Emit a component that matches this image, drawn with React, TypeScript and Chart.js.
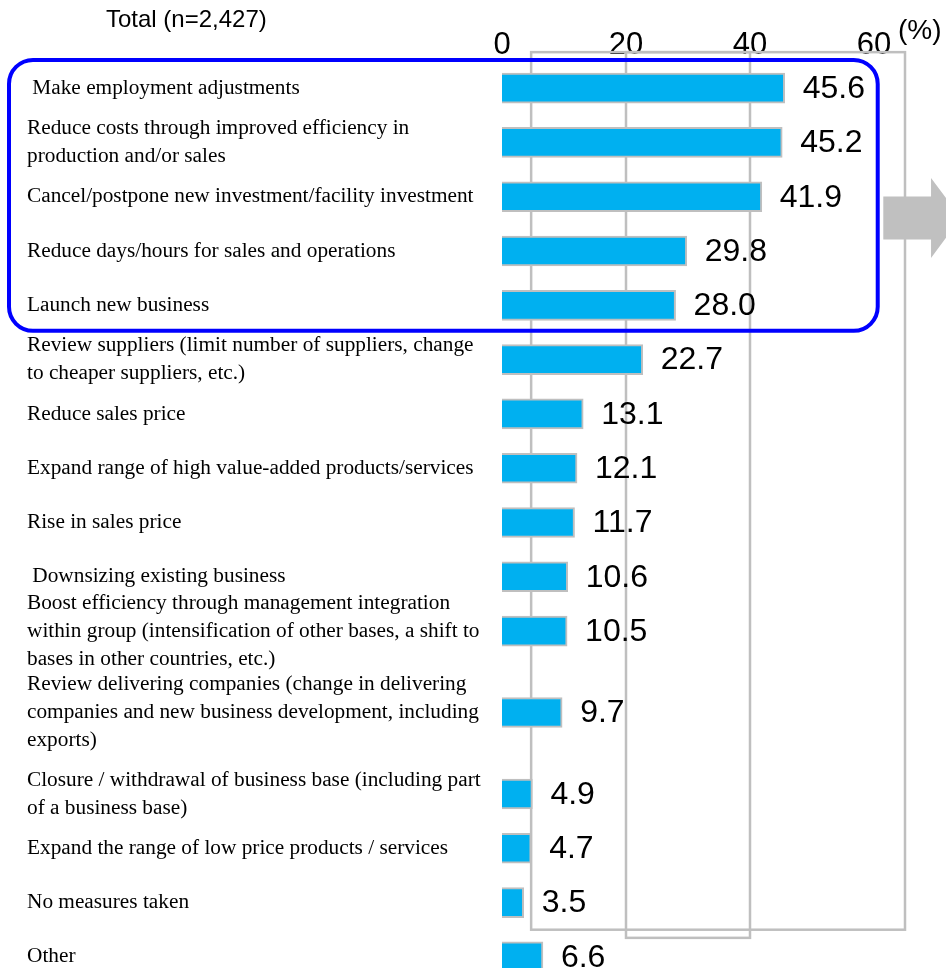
import { useEffect, useRef } from "react";
import { Chart, registerables } from "chart.js";

Chart.register(...registerables);

const categories: (string | string[])[] = [
  " Make employment adjustments",
  ["Reduce costs through improved efficiency in", "production and/or sales"],
  "Cancel/postpone new investment/facility investment",
  "Reduce days/hours for sales and operations",
  "Launch new business",
  ["Review suppliers (limit number of suppliers, change", "to cheaper suppliers, etc.)"],
  "Reduce sales price",
  "Expand range of high value-added products/services",
  "Rise in sales price",
  " Downsizing existing business",
  [
    "Boost efficiency through management integration",
    "within group (intensification of other bases, a shift to",
    "bases in other countries, etc.)",
  ],
  [
    "Review delivering companies (change in delivering",
    "companies and new business development, including",
    "exports)",
  ],
  ["Closure / withdrawal of business base (including part", "of a business base)"],
  "Expand the range of low price products / services",
  "No measures taken",
  "Other",
];

const values: number[] = [45.6, 45.2, 41.9, 29.8, 28.0, 22.7, 13.1, 12.1, 11.7, 10.6, 10.5, 9.7, 4.9, 4.7, 3.5, 6.6];

const xTicks: number[] = [0, 20, 40, 60];

const titleText = "Total (n=2,427)";
const unitText = "(%)";

const SANS = "'Liberation Sans', Arial, sans-serif";
const SERIF = "'Liberation Serif', 'Times New Roman', serif";

// Row slots: each category gets one slot, with an extra half slot between
// neighbouring rows whose labels together need more than four text lines.
const lineCount = (c: string | string[]) => (Array.isArray(c) ? c.length : 1);
const rowSlots: number[] = [];
categories.forEach((c, i) => {
  if (i === 0) {
    rowSlots.push(0);
  } else {
    const pair = lineCount(categories[i - 1]) + lineCount(c);
    rowSlots.push(rowSlots[i - 1] + (pair >= 5 ? 1.5 : 1));
  }
});
const lastSlot = rowSlots[rowSlots.length - 1];

const decorPlugin = {
  id: "decor",
  beforeDatasetsDraw(chart: any) {
    const { ctx } = chart;
    const xs = chart.scales.x;
    const ys = chart.scales.y;
    ctx.save();
    // grey frame (as in source, slightly offset from the value axis)
    ctx.strokeStyle = "#BFBFBF";
    ctx.lineWidth = 2.5;
    const top = ys.getPixelForValue(-0.663);
    const outerBottom = ys.getPixelForValue(15.5);
    const innerBottom = ys.getPixelForValue(15.65);
    const l = xs.getPixelForValue(4.7);
    const r = xs.getPixelForValue(65);
    const g20 = xs.getPixelForValue(20);
    const g40 = xs.getPixelForValue(40);
    ctx.strokeRect(l, top, r - l, outerBottom - top);
    ctx.strokeRect(g20, top, g40 - g20, innerBottom - top);
    // grey arrow
    const cy = ys.getPixelForValue(2.39);
    const bx0 = xs.getPixelForValue(61.5);
    const hx = xs.getPixelForValue(69.2);
    const tip = xs.getPixelForValue(74);
    ctx.fillStyle = "#C0C0C0";
    ctx.beginPath();
    ctx.moveTo(bx0, cy - 21.5);
    ctx.lineTo(hx, cy - 21.5);
    ctx.lineTo(hx, cy - 40);
    ctx.lineTo(tip, cy);
    ctx.lineTo(hx, cy + 40);
    ctx.lineTo(hx, cy + 21.5);
    ctx.lineTo(bx0, cy + 21.5);
    ctx.closePath();
    ctx.fill();
    ctx.restore();
  },
  afterDatasetsDraw(chart: any) {
    const { ctx } = chart;
    const xs = chart.scales.x;
    const ys = chart.scales.y;
    const meta = chart.getDatasetMeta(0);
    ctx.save();
    // value labels
    ctx.fillStyle = "#000";
    ctx.font = `32px ${SANS}`;
    ctx.textAlign = "left";
    ctx.textBaseline = "middle";
    meta.data.forEach((el: any, i: number) => {
      ctx.fillText(values[i].toFixed(1), el.x + 18, el.y + 1);
    });
    // blue rounded highlight box
    const bl = 9;
    const br = xs.getPixelForValue(60.6);
    const bt = ys.getPixelForValue(-0.52);
    const bb = ys.getPixelForValue(4.47);
    const rad = 24;
    ctx.strokeStyle = "#0000FF";
    ctx.lineWidth = 4;
    ctx.beginPath();
    ctx.moveTo(bl + rad, bt);
    ctx.lineTo(br - rad, bt);
    ctx.arcTo(br, bt, br, bt + rad, rad);
    ctx.lineTo(br, bb - rad);
    ctx.arcTo(br, bb, br - rad, bb, rad);
    ctx.lineTo(bl + rad, bb);
    ctx.arcTo(bl, bb, bl, bb - rad, rad);
    ctx.lineTo(bl, bt + rad);
    ctx.arcTo(bl, bt, bl + rad, bt, rad);
    ctx.closePath();
    ctx.stroke();
    // title and unit
    ctx.fillStyle = "#000";
    ctx.textBaseline = "alphabetic";
    ctx.font = `24px ${SANS}`;
    ctx.fillText(titleText, 106, 27);
    ctx.font = `28px ${SANS}`;
    ctx.fillText(unitText, 898, 39);
    ctx.restore();
  },
};

export default function App() {
  const canvasRef = useRef<HTMLCanvasElement | null>(null);

  useEffect(() => {
    const canvas = canvasRef.current;
    if (!canvas) return;
    const chart = new Chart(canvas, {
      type: "bar",
      data: {
        datasets: [
          {
            data: values.map((v, i) => ({ x: v, y: rowSlots[i] })),
            backgroundColor: "#00B0F0",
            borderColor: "#BFBFBF",
            borderWidth: { top: 2, right: 2, bottom: 2, left: 0 },
            borderSkipped: false,
            barThickness: 30,
          },
        ],
      },
      options: {
        indexAxis: "y",
        responsive: false,
        animation: false,
        devicePixelRatio: 1,
        layout: { padding: { left: 27, right: 72, top: 0, bottom: 0 } },
        plugins: {
          legend: { display: false },
          tooltip: { enabled: false },
          title: { display: false },
        },
        scales: {
          x: {
            type: "linear",
            position: "top",
            min: 0,
            max: 60,
            offset: false,
            afterBuildTicks: (s: any) => {
              s.ticks = xTicks.map((v) => ({ value: v }));
            },
            afterFit: (s: any) => {
              s.height = 61;
              s.paddingLeft = 0;
              s.paddingRight = 0;
            },
            grid: { display: false, drawTicks: false, offset: false },
            border: { display: false },
            ticks: {
              color: "#000",
              font: { family: SANS, size: 31, lineHeight: 1 },
              padding: 0,
              maxRotation: 0,
              autoSkip: false,
            },
          },
          y: {
            type: "linear",
            reverse: true,
            offset: false,
            min: -0.5,
            max: lastSlot + 0.5,
            afterBuildTicks: (s: any) => {
              s.ticks = rowSlots.map((v) => ({ value: v }));
            },
            afterFit: (s: any) => {
              s.width = 475;
              s.paddingTop = 0;
              s.paddingBottom = 0;
            },
            grid: { display: false, drawTicks: false, offset: false },
            border: { display: false },
            ticks: {
              color: "#000",
              crossAlign: "far",
              autoSkip: false,
              padding: 0,
              font: { family: SERIF, size: 21.3, lineHeight: 1.31 },
              callback: (_v: any, i: number) => categories[i],
            },
          },
        },
      },
      plugins: [decorPlugin],
    } as any);
    return () => chart.destroy();
  }, []);

  return (
    <div style={{ position: "absolute", left: 0, top: 0, width: 946, height: 968, overflow: "hidden", background: "#fff" }}>
      <canvas ref={canvasRef} width={946} height={984} style={{ display: "block", width: 946, height: 984 }} />
    </div>
  );
}
